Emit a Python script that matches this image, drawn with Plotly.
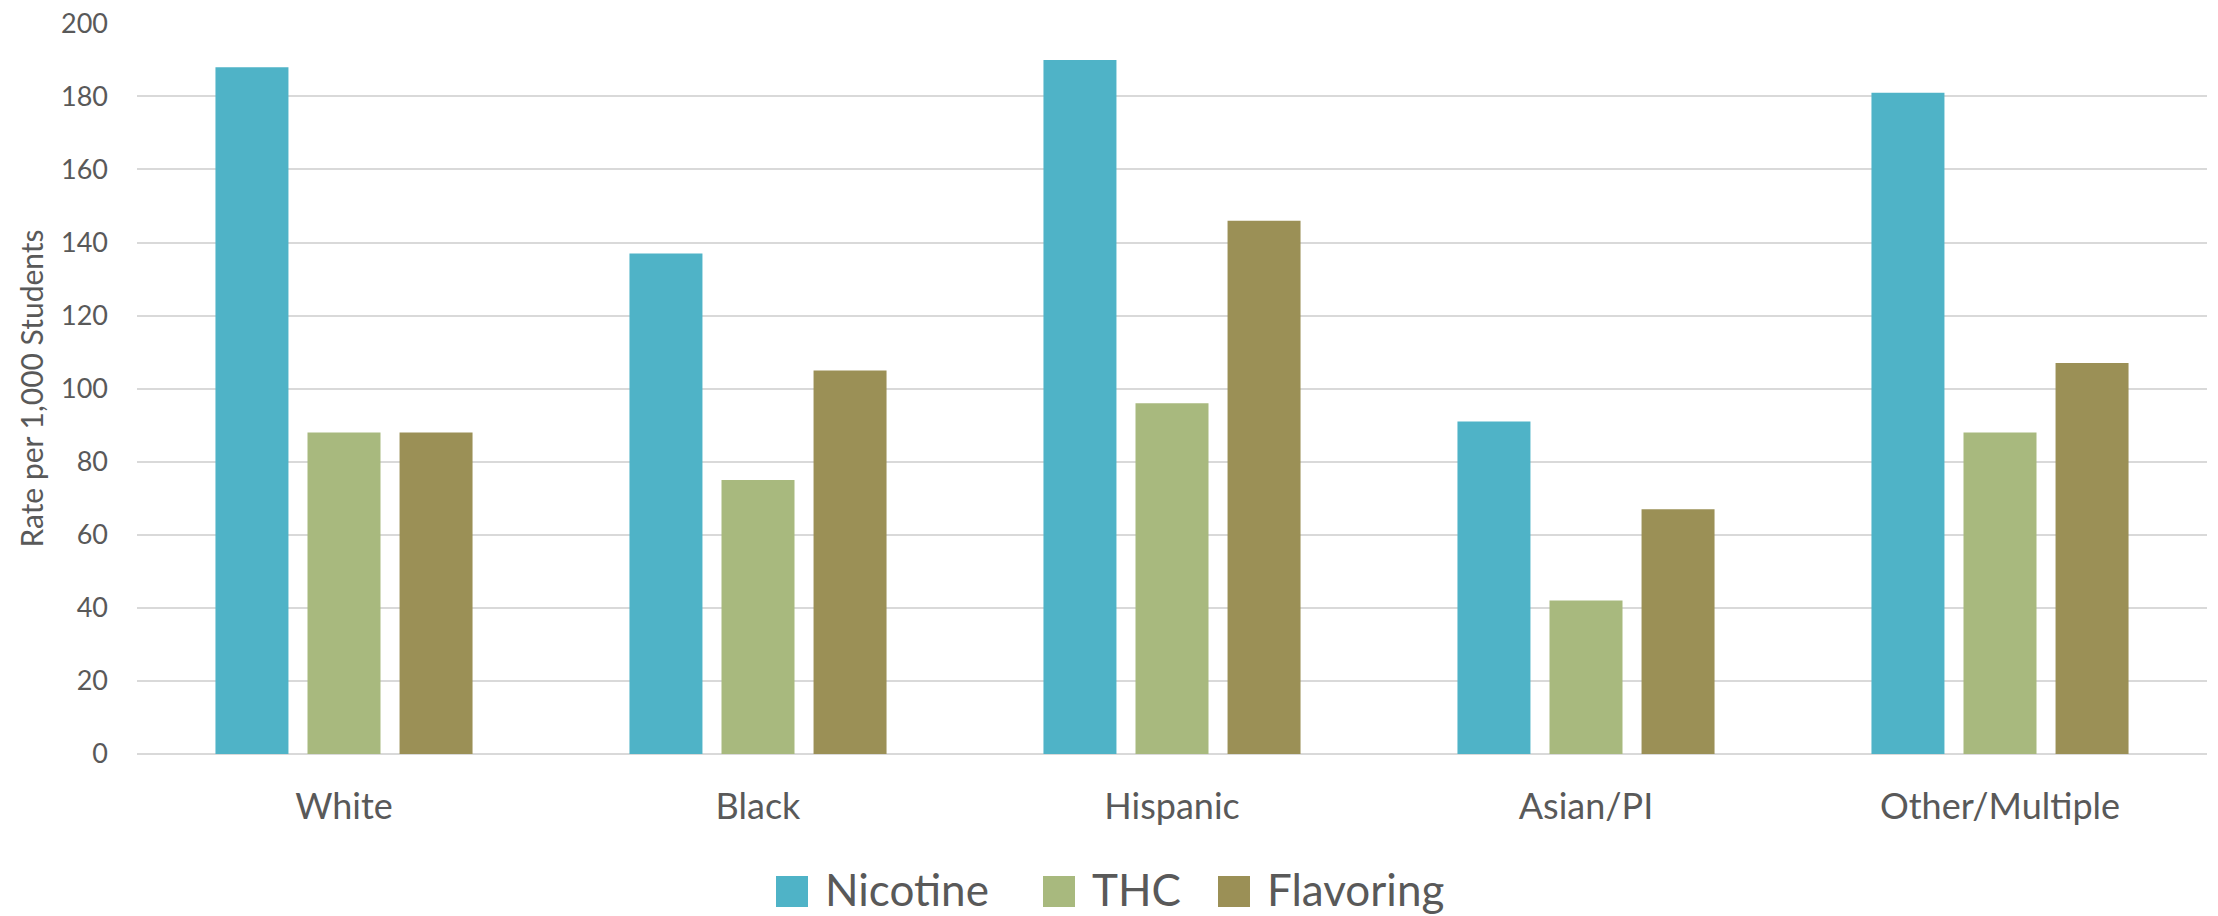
import plotly.graph_objects as go

categories = ["White", "Black", "Hispanic", "Asian/PI", "Other/Multiple"]
nicotine = [188, 137, 190, 91, 181]
thc = [88, 75, 96, 42, 88]
flavoring = [88, 105, 146, 67, 107]
series_names = ["Nicotine", "THC", "Flavoring"]
colors = ["#4FB3C7", "#A8B97E", "#9B9056"]
y_ticks = [0, 20, 40, 60, 80, 100, 120, 140, 160, 180, 200]

OFF = 8  # default body margin of the html page
W, H = 2218 - OFF, 916 - OFF
L, R, T, B = 129, 11, 15, 162
FONT = "Lato, 'Open Sans', sans-serif"
TXT = "#595959"

fig = go.Figure()
for name, vals, col in zip(series_names, [nicotine, thc, flavoring], colors):
    fig.add_trace(go.Bar(x=categories, y=vals, name=name, marker=dict(color=col, line=dict(width=0)),
                         showlegend=False))

pw = W - L - R
ph = H - T - B

def px_x(px):
    return (px - OFF - L) / pw

def px_y(py):
    return (H - B - (py - OFF)) / ph

# manual legend (large swatches as in the reference)
legend_items = [(776, 823), (1043, 1090), (1218, 1265)]
shapes = []
annotations = []
for (sx, tx), name, col in zip(legend_items, series_names, colors):
    shapes.append(dict(type="rect", xref="paper", yref="paper",
                       x0=px_x(sx), x1=px_x(sx + 32), y0=px_y(907), y1=px_y(876),
                       fillcolor=col, line=dict(width=0)))
    annotations.append(dict(xref="paper", yref="paper", x=px_x(tx), y=px_y(889),
                            text=name, showarrow=False, xanchor="left", yanchor="middle",
                            font=dict(family=FONT, size=44, color=TXT)))

fig.update_layout(
    width=W, height=H,
    margin=dict(l=L, r=R, t=T, b=B, autoexpand=False),
    paper_bgcolor="white", plot_bgcolor="white",
    barmode="group", bargap=0.333, bargroupgap=0.207,
    shapes=shapes, annotations=annotations,
    xaxis=dict(showgrid=False, showline=False, zeroline=False,
               tickfont=dict(family=FONT, size=36, color=TXT),
               ticks="", ticklabelstandoff=28, automargin=False),
    yaxis=dict(range=[0, 200.1], tickvals=y_ticks, showgrid=True, gridcolor="#D9D9D9", gridwidth=2,
               zeroline=True, zerolinecolor="#D9D9D9", zerolinewidth=2, showline=False,
               tickfont=dict(family=FONT, size=27, color=TXT), ticks="", ticklabelstandoff=28,
               ticklabeloverflow="allow",
               title=dict(text="Rate per 1,000 Students", standoff=8,
                          font=dict(family=FONT, size=30, color=TXT)),
               automargin=False),
)

fig.write_html("out.html")
